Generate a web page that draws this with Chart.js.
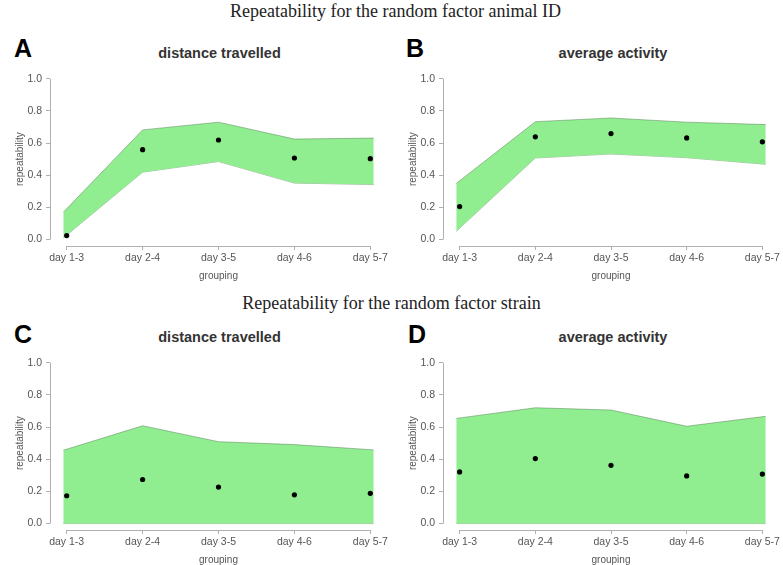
<!DOCTYPE html>
<html>
<head>
<meta charset="utf-8">
<script src="https://cdn.jsdelivr.net/npm/chart.js@4"></script>
<style>
  html, body { margin:0; padding:0; background:#fff; width:783px; height:565px; overflow:hidden; }
  body { position:relative; }
  canvas { position:absolute; }
  .t { position:absolute; white-space:nowrap; line-height:1; }
  .main { font-family:"Liberation Serif","Times New Roman",serif; font-size:18px; color:#222; width:783px; left:0; text-align:center; }
  .letter { font-family:"Liberation Sans",Arial,sans-serif; font-weight:bold; font-size:25px; color:#000; }
  .ptitle { font-family:"Liberation Sans",Arial,sans-serif; font-weight:bold; font-size:14.5px; color:#333; text-align:center; }
</style>
</head>
<body>
<div class="t main" style="top:2px;left:4px;">Repeatability for the random factor animal ID</div>
<div class="t main" style="top:294px;left:0px;">Repeatability for the random factor strain</div>
<div class="t letter" style="left:14px;top:36px;">A</div>
<div class="t letter" style="left:406px;top:36px;">B</div>
<div class="t letter" style="left:14px;top:322px;">C</div>
<div class="t letter" style="left:408px;top:322px;">D</div>
<div class="t ptitle" style="left:50px;width:339px;top:46px;">distance travelled</div>
<div class="t ptitle" style="left:443px;width:340px;top:46px;">average activity</div>
<div class="t ptitle" style="left:50px;width:339px;top:330px;">distance travelled</div>
<div class="t ptitle" style="left:443px;width:340px;top:330px;">average activity</div>

<canvas id="cA" width="391" height="226" style="left:0px;top:62px;"></canvas>
<canvas id="cB" width="390" height="226" style="left:393px;top:62px;"></canvas>
<canvas id="cC" width="391" height="226" style="left:0px;top:346px;"></canvas>
<canvas id="cD" width="390" height="226" style="left:393px;top:346px;"></canvas>

<script>
// ---- data ----
const groupings = ['day 1-3', 'day 2-4', 'day 3-5', 'day 4-6', 'day 5-7'];
const pointX = [1, 2, 3, 4, 5];
const bandX = [0.955, 2, 3, 4, 5.045];
const yTickValues = [0, 0.2, 0.4, 0.6, 0.8, 1.0];

// A: animal ID, distance travelled
const animalDistEst   = [0.025, 0.559, 0.619, 0.507, 0.503];
const animalDistUpper = [0.170, 0.682, 0.730, 0.625, 0.631];
const animalDistLower = [0.010, 0.419, 0.485, 0.351, 0.342];
// B: animal ID, average activity
const animalActEst   = [0.205, 0.639, 0.659, 0.632, 0.608];
const animalActUpper = [0.349, 0.733, 0.756, 0.730, 0.715];
const animalActLower = [0.051, 0.507, 0.532, 0.509, 0.468];
// C: strain, distance travelled
const strainDistEst   = [0.173, 0.274, 0.227, 0.179, 0.188];
const strainDistUpper = [0.456, 0.608, 0.509, 0.491, 0.458];
const strainDistLower = [0, 0, 0, 0, 0];
// D: strain, average activity
const strainActEst   = [0.321, 0.404, 0.362, 0.296, 0.308];
const strainActUpper = [0.654, 0.720, 0.706, 0.605, 0.667];
const strainActLower = [0, 0, 0, 0, 0];

// ---- styling ----
const BAND = '#90EE90';
const BAND_EDGE = 'rgba(70,110,70,0.55)';
const AXIS = '#b0b0b0';
const TICK_TXT = '#555';
const SANS = '"Liberation Sans", Arial, sans-serif';

const rAxes = {
  id: 'rAxes',
  afterDraw(chart) {
    const {ctx, chartArea, scales: {x, y}} = chart;
    ctx.save();
    ctx.strokeStyle = AXIS;
    ctx.lineWidth = 1;
    ctx.beginPath();
    const lx = Math.round(chartArea.left) + 0.5;
    ctx.moveTo(lx, y.getPixelForValue(yTickValues[0]));
    ctx.lineTo(lx, y.getPixelForValue(yTickValues[yTickValues.length - 1]));
    const by = Math.round(chartArea.bottom) + 0.5;
    ctx.moveTo(x.getPixelForValue(pointX[0]), by);
    ctx.lineTo(x.getPixelForValue(pointX[pointX.length - 1]), by);
    ctx.stroke();
    ctx.restore();
  }
};

function xy(xs, ys) { return xs.map((v, i) => ({x: v, y: ys[i]})); }

function makeChart(id, est, upper, lower, padRight) {
  new Chart(document.getElementById(id), {
    type: 'line',
    data: {
      datasets: [
        { data: xy(bandX, upper), borderColor: BAND_EDGE, borderWidth: 0.8, backgroundColor: BAND,
          fill: '+1', pointRadius: 0, tension: 0, order: 2 },
        { data: xy(bandX, lower), borderColor: BAND_EDGE, borderWidth: 0.8, backgroundColor: BAND,
          fill: false, pointRadius: 0, tension: 0, order: 2 },
        { data: xy(pointX, est), showLine: false, pointRadius: 2.6, pointBackgroundColor: '#000',
          pointBorderColor: '#000', pointBorderWidth: 0, fill: false, order: 0 }
      ]
    },
    options: {
      responsive: false,
      animation: false,
      events: [],
      layout: { padding: { left: 0, right: padRight, top: 9.5, bottom: 0 } },
      plugins: { legend: { display: false }, tooltip: { enabled: false }, title: { display: false } },
      scales: {
        x: {
          type: 'linear', min: 0.78, max: 5.22,
          afterBuildTicks: s => { s.ticks = pointX.map(v => ({value: v})); },
          afterFit: s => { s.height = 42; },
          ticks: { autoSkip: false, maxRotation: 0, padding: 2, color: TICK_TXT,
                   font: { family: SANS, size: 10.5 },
                   callback: v => groupings[pointX.indexOf(v)] },
          grid: { drawOnChartArea: false, drawTicks: true, tickLength: 4, color: AXIS },
          border: { display: false },
          title: { display: true, text: 'grouping', color: TICK_TXT, font: { family: SANS, size: 10 },
                   padding: { top: 0, bottom: 6 } }
        },
        y: {
          min: -0.04, max: 1.04,
          afterBuildTicks: s => { s.ticks = yTickValues.map(v => ({value: v})); },
          afterFit: s => { s.width = 50; },
          ticks: { padding: 4, color: TICK_TXT, font: { family: SANS, size: 10.5 },
                   callback: v => Number(v).toFixed(1) },
          grid: { drawOnChartArea: false, drawTicks: true, tickLength: 4, color: AXIS },
          border: { display: false },
          title: { display: true, text: 'repeatability', color: TICK_TXT, font: { family: SANS, size: 10 },
                   padding: { top: 14, bottom: 0 } }
        }
      }
    },
    plugins: [rAxes]
  });
}

makeChart('cA', animalDistEst, animalDistUpper, animalDistLower, 2);
makeChart('cB', animalActEst, animalActUpper, animalActLower, 0);
makeChart('cC', strainDistEst, strainDistUpper, strainDistLower, 2);
makeChart('cD', strainActEst, strainActUpper, strainActLower, 0);
</script>
</body>
</html>
